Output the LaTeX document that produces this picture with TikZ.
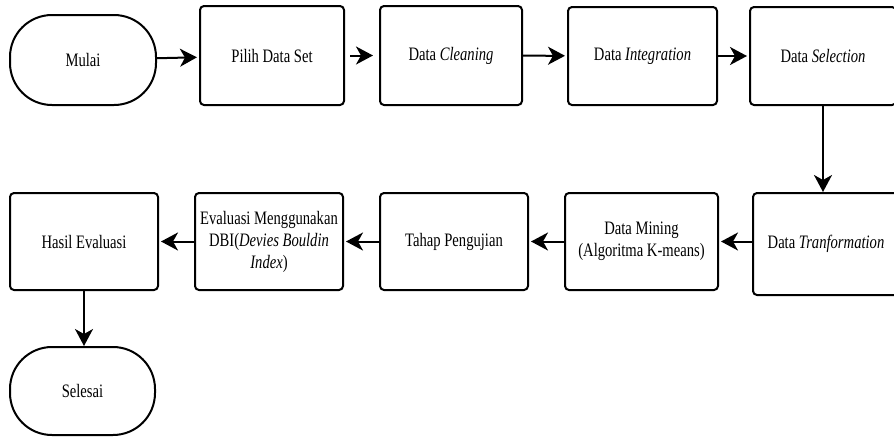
\documentclass[tikz,border=0pt]{standalone}
\usepackage{fontspec}
\setmainfont[FakeStretch=0.77]{Liberation Serif}
\usetikzlibrary{arrows.meta}
\begin{document}
\begin{tikzpicture}[x=1pt,y=-1pt,
  box/.style={draw, line width=2pt, rounded corners=4pt, align=center, inner sep=2pt,
    text=black, font=\fontsize{19}{22}\selectfont},
  term/.style={box, rounded corners=42pt},
  arr/.style={line width=2pt, -{Stealth[length=17pt,width=18pt,inset=5pt]}, shorten >=2pt}]
\useasboundingbox (0,0) rectangle (894,437);
\clip (0,0) rectangle (894,437);
% top row
\node[term, minimum width=146pt, minimum height=90pt] (mulai) at (83,60) {Mulai};
\node[box, minimum width=144pt, minimum height=99pt] (pilih) at (272,55.5) {Pilih Data Set};
\node[box, minimum width=142pt, minimum height=99pt] (clean) at (451,55.5) {Data \textit{Cleaning}};
\node[box, minimum width=149pt, minimum height=98pt] (integ) at (642.5,56) {Data \textit{Integration}};
\node[box, minimum width=146pt, minimum height=98pt] (sel) at (823,56) {Data \textit{Selection}};
% bottom row
\node[box, minimum width=146pt, minimum height=102pt] (tr) at (826,244) {Data \textit{Tranformation}};
\node[box, minimum width=153pt, minimum height=97pt] (mining) at (641.5,241.5) {Data Mining\\(Algoritma K-means)};
\node[box, minimum width=148pt, minimum height=97pt] (tahap) at (454,241.5) {Tahap Pengujian};
\node[box, minimum width=148pt, minimum height=97pt] (eval) at (269,241.5) {Evaluasi Menggunakan\\DBI(\textit{Devies Bouldin}\\\textit{Index})};
\node[box, minimum width=148pt, minimum height=97pt] (hasil) at (84,241.5) {Hasil Evaluasi};
\node[term, minimum width=145pt, minimum height=88pt] (selesai) at (82.5,391) {Selesai};
% connectors
\draw[arr] (mulai) -- (pilih);
\draw[arr, shorten <=5pt, shorten >=6pt] (pilih) -- (clean);
\draw[arr] (clean) -- (integ);
\draw[arr] (integ) -- (sel);
\draw[arr, shorten >=0pt] (sel.south) -- (sel.south |- tr.north);
\draw[arr] (tr.west |- mining.east) -- (mining.east);
\draw[arr] (mining) -- (tahap);
\draw[arr] (tahap) -- (eval);
\draw[arr] (eval) -- (hasil);
\draw[arr, shorten >=0pt] (hasil.south) -- (hasil.south |- selesai.north);
\end{tikzpicture}
\end{document}
